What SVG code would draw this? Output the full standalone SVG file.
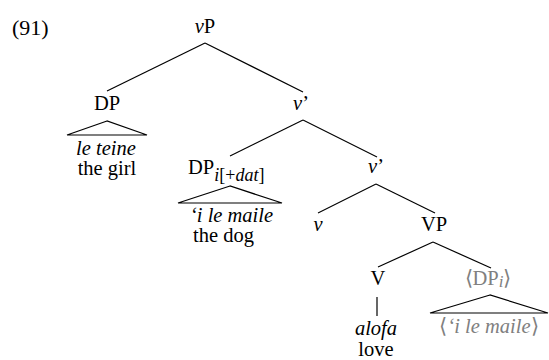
<svg xmlns="http://www.w3.org/2000/svg" width="549" height="360" viewBox="0 0 549 360">
  <style>
    .c { text-anchor: middle; }
    .i { font-style: italic; }
    .g { fill: #808080; }
    .edge { stroke: #000; stroke-width: 1.2; fill: none; }
    .tri { stroke: #000; stroke-width: 1.2; fill: none; stroke-linejoin: miter; }
  </style>

  <text x="12" y="35" font-family="Liberation Serif, serif" font-size="22">(91)</text>

  <!-- connectors -->
  <g id="edges">
    <line class="edge" x1="205" y1="43" x2="107" y2="91"/>
    <line class="edge" x1="205" y1="43" x2="303" y2="92"/>
    <line class="edge" x1="303" y1="120" x2="230" y2="156"/>
    <line class="edge" x1="303" y1="120" x2="377" y2="157"/>
    <line class="edge" x1="376" y1="184" x2="318" y2="213"/>
    <line class="edge" x1="376" y1="184" x2="435" y2="213"/>
    <line class="edge" x1="433" y1="242" x2="378" y2="267"/>
    <line class="edge" x1="433" y1="242" x2="491" y2="268"/>
    <line class="edge" x1="377" y1="297" x2="377" y2="316"/>
    <polygon class="tri" points="107,121 67,135 147,135"/>
    <polygon class="tri" points="230,186 178,203 282,203"/>
    <polygon class="tri" points="490,295 430,313 548,313"/>
  </g>

  <g id="vP">
    <text class="c" x="205" y="33" font-family="Liberation Serif, serif" font-size="20.5"><tspan class="i">v</tspan>P</text>
  </g>

  <g id="DP-subject">
    <text class="c" x="107" y="110" font-family="Liberation Serif, serif" font-size="20.5">DP</text>
    <text class="c i" x="106" y="155" font-family="Liberation Serif, serif" font-size="20.5">le teine</text>
    <text class="c" x="107" y="175" font-family="Liberation Serif, serif" font-size="20.5">the girl</text>
  </g>

  <g id="v-bar-1">
    <text class="c" x="301" y="110" font-family="Liberation Serif, serif" font-size="20.5"><tspan class="i">v</tspan>’</text>
  </g>

  <g id="DP-dat">
    <text x="188" y="174" font-family="Liberation Serif, serif" font-size="20.5">DP<tspan class="i" font-size="18" dy="7">i</tspan><tspan font-size="18">[+</tspan><tspan class="i" font-size="18">dat</tspan><tspan font-size="18">]</tspan></text>
    <text class="i" x="190" y="222" font-family="Liberation Serif, serif" font-size="20.5">‘i le maile</text>
    <text x="193" y="242" font-family="Liberation Serif, serif" font-size="20.5">the dog</text>
  </g>

  <g id="v-bar-2">
    <text class="c" x="376" y="173" font-family="Liberation Serif, serif" font-size="20.5"><tspan class="i">v</tspan>’</text>
  </g>

  <g id="v">
    <text class="c i" x="318" y="231" font-family="Liberation Serif, serif" font-size="20.5">v</text>
  </g>

  <g id="VP">
    <text class="c" x="434" y="231" font-family="Liberation Serif, serif" font-size="20.5">VP</text>
  </g>

  <g id="V">
    <text class="c" x="378" y="285" font-family="Liberation Serif, serif" font-size="20.5">V</text>
    <text class="c i" x="376" y="335" font-family="Liberation Serif, serif" font-size="20.5">alofa</text>
    <text class="c" x="376" y="356" font-family="Liberation Serif, serif" font-size="20.5">love</text>
  </g>

  <g id="DP-trace">
    <text class="c g" x="488" y="285" font-family="Liberation Serif, serif" font-size="20.5">⟨DP<tspan class="i" font-size="17" dy="2">i</tspan><tspan dy="-2">⟩</tspan></text>
    <text class="c g" x="489" y="333" font-family="Liberation Serif, serif" font-size="20.5">⟨<tspan class="i">‘i le maile</tspan>⟩</text>
  </g>
</svg>
